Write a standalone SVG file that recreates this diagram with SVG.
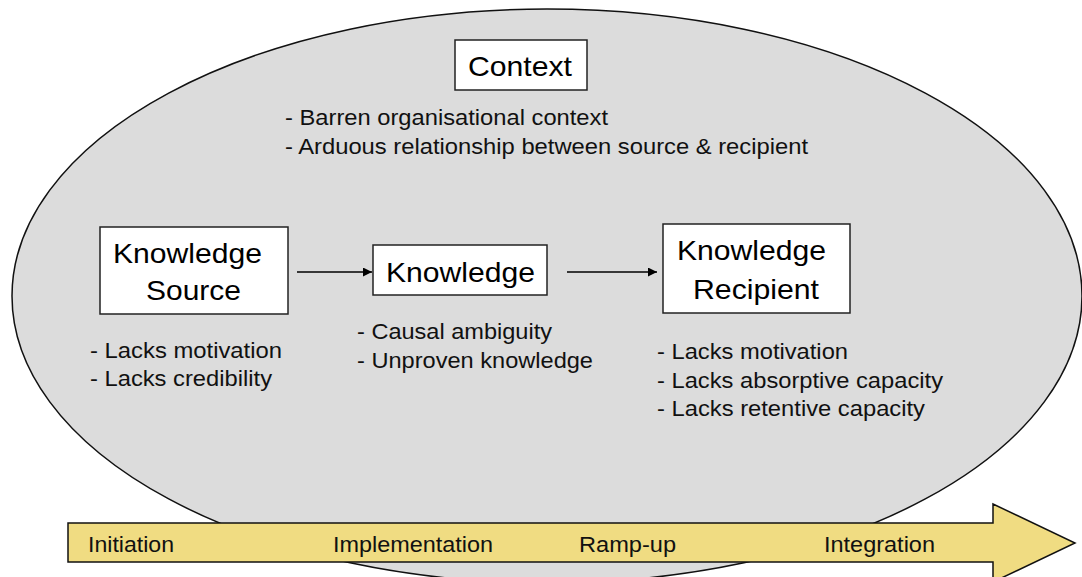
<svg xmlns="http://www.w3.org/2000/svg" width="1082" height="577" viewBox="0 0 1082 577">
<defs>
<style>
.box{fill:#ffffff;stroke:#222;stroke-width:1.5}
.big{font-family:"Liberation Sans",Arial,sans-serif;font-size:28px;fill:#000}
.bul{font-family:"Liberation Sans",Arial,sans-serif;font-size:21.5px;fill:#111}
.ph{font-family:"Liberation Sans",Arial,sans-serif;font-size:22px;fill:#111}
.con{stroke:#000;stroke-width:1.5;fill:none}
</style>
<marker id="ah" viewBox="0 0 10 10" refX="10" refY="5" markerWidth="10" markerHeight="9" markerUnits="userSpaceOnUse" orient="auto"><path d="M0,0 L10,5 L0,10 z" fill="#000"/></marker>
</defs>
<rect width="1082" height="577" fill="#fff"/>
<ellipse id="context-ellipse" cx="547" cy="296" rx="535" ry="287" fill="#dcdcdc" stroke="#111" stroke-width="1.5"/>
<g id="context">
<rect class="box" x="455" y="40" width="132" height="50"/>
<text class="big" x="468" y="76" textLength="104" lengthAdjust="spacingAndGlyphs">Context</text>
<text class="bul" x="285" y="125" textLength="323" lengthAdjust="spacingAndGlyphs">- Barren organisational context</text>
<text class="bul" x="285" y="154" textLength="523" lengthAdjust="spacingAndGlyphs">- Arduous relationship between source &amp; recipient</text>
</g>
<g id="knowledge-source">
<rect class="box" x="100" y="227" width="188" height="87"/>
<text class="big" x="113" y="263" textLength="149" lengthAdjust="spacingAndGlyphs">Knowledge</text>
<text class="big" x="146" y="300" textLength="95" lengthAdjust="spacingAndGlyphs">Source</text>
<text class="bul" x="90" y="358" textLength="192" lengthAdjust="spacingAndGlyphs">- Lacks motivation</text>
<text class="bul" x="90" y="386" textLength="182" lengthAdjust="spacingAndGlyphs">- Lacks credibility</text>
</g>
<g id="knowledge">
<rect class="box" x="373" y="245" width="174" height="50"/>
<text class="big" x="386" y="282" textLength="149" lengthAdjust="spacingAndGlyphs">Knowledge</text>
<text class="bul" x="357" y="339" textLength="195" lengthAdjust="spacingAndGlyphs">- Causal ambiguity</text>
<text class="bul" x="357" y="368" textLength="236" lengthAdjust="spacingAndGlyphs">- Unproven knowledge</text>
</g>
<g id="knowledge-recipient">
<rect class="box" x="663" y="224" width="187" height="89"/>
<text class="big" x="677" y="260" textLength="149" lengthAdjust="spacingAndGlyphs">Knowledge</text>
<text class="big" x="693" y="299" textLength="126" lengthAdjust="spacingAndGlyphs">Recipient</text>
<text class="bul" x="657" y="359" textLength="191" lengthAdjust="spacingAndGlyphs">- Lacks motivation</text>
<text class="bul" x="657" y="388" textLength="286" lengthAdjust="spacingAndGlyphs">- Lacks absorptive capacity</text>
<text class="bul" x="657" y="416" textLength="268" lengthAdjust="spacingAndGlyphs">- Lacks retentive capacity</text>
</g>
<g id="connectors">
<line class="con" x1="297" y1="272" x2="372" y2="272" marker-end="url(#ah)"/>
<line class="con" x1="567" y1="272" x2="657" y2="272" marker-end="url(#ah)"/>
</g>
<g id="phase-arrow">
<path d="M68,523 L993,523 L993,504 L1075,543 L993,582 L993,562 L68,562 Z" fill="#f0dc82" stroke="#111" stroke-width="1.5"/>
<text class="ph" x="88" y="552" textLength="86" lengthAdjust="spacingAndGlyphs">Initiation</text>
<text class="ph" x="333" y="552" textLength="160" lengthAdjust="spacingAndGlyphs">Implementation</text>
<text class="ph" x="579" y="552" textLength="97" lengthAdjust="spacingAndGlyphs">Ramp-up</text>
<text class="ph" x="824" y="552" textLength="111" lengthAdjust="spacingAndGlyphs">Integration</text>
</g>
</svg>
